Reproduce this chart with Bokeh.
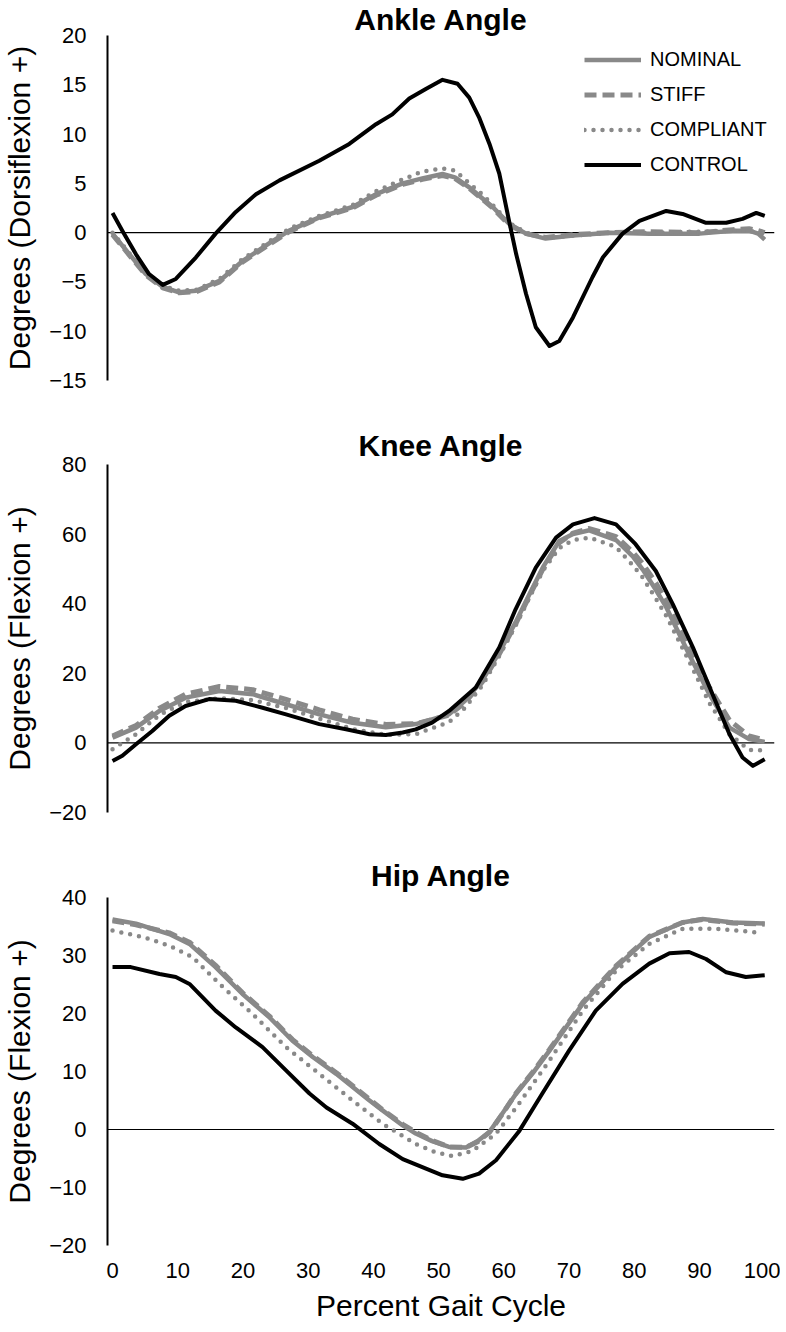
from bokeh.plotting import figure
from bokeh.layouts import column
from bokeh.models import Span, Legend, LegendItem, FixedTicker, Range1d
from bokeh.embed import file_html
from bokeh.resources import INLINE

FONT = "Liberation Sans"
GRAY = "#898989"
BLACK = "#000000"

# ---------------- Ankle ----------------
ankle_x = [0, 2.6, 5.1, 7.7, 10.2, 12.8, 16.4, 19.9, 24.0, 27.1, 31.7, 36.8, 40.4, 44.5, 47.5, 50.6,
           52.5, 54.7, 56.5, 58.3, 60.8, 63.4, 66.4, 70.6, 76.2, 82.3, 90.0, 95.1, 97.6, 99, 100]
ankle_nominal = [-0.1, -2.2, -4.2, -5.5, -6.05, -5.9, -4.9, -2.9, -1.1, 0.2, 1.55, 2.6, 3.9, 5.0, 5.5, 5.95,
                 5.6, 4.6, 3.6, 2.6, 0.9, -0.1, -0.6, -0.3, 0.0, -0.1, -0.1, 0.2, 0.2, -0.1, -0.7]
ankle_stiff = [-0.2, -2.3, -4.3, -5.6, -6.1, -6.0, -5.0, -3.0, -1.2, 0.1, 1.5, 2.5, 3.8, 4.9, 5.4, 5.8,
               5.5, 4.5, 3.5, 2.5, 0.8, -0.1, -0.5, -0.2, 0.0, 0.1, 0.0, 0.3, 0.4, 0.2, 0.0]
ankle_compliant = [0.0, -2.1, -4.1, -5.4, -5.9, -5.8, -4.7, -2.7, -0.9, 0.4, 1.7, 2.8, 4.2, 5.4, 6.2, 6.5,
                   6.3, 5.0, 4.0, 2.8, 1.0, 0.0, -0.5, -0.3, 0.0, 0.0, 0.1, 0.2, 0.2, 0.0, -0.3]
ankle_control_x = [0, 1.5, 3.6, 5.6, 7.7, 9.7, 12.8, 15.8, 18.9, 22.0, 25.6, 31.7, 36.3, 40.4, 42.9, 45.5,
                   48.1, 50.6, 52.9, 54.7, 56.2, 57.8, 59.3, 60.8, 61.9, 63.4, 64.9, 67.0, 68.5, 70.6, 73.6,
                   75.2, 78.2, 80.8, 84.9, 87.4, 91.0, 94.1, 96.6, 98.7, 100]
ankle_control = [2.0, 0.2, -2.2, -4.2, -5.3, -4.7, -2.5, -0.1, 2.1, 3.9, 5.3, 7.3, 9.0, 11.0, 12.0, 13.6,
                 14.6, 15.5, 15.1, 13.7, 11.7, 9.0, 6.0, 1.2, -2.2, -6.2, -9.6, -11.5, -11.0, -8.6, -4.5,
                 -2.5, -0.1, 1.2, 2.2, 1.9, 1.0, 1.0, 1.4, 2.0, 1.7]

# ---------------- Knee ----------------
knee_x = [0, 3.6, 7.2, 11.2, 16.4, 21.5, 26.6, 31.7, 36.8, 41.9, 46.5, 51.6, 54, 56.7, 59.3, 61.9, 64, 66,
          68.5, 70.6, 73.1, 77.2, 79.8, 81.3, 83.3, 84.9, 88.4, 91.5, 94.6, 97.6, 100]
knee_nominal = [1.5, 4.4, 9.2, 13.0, 14.9, 14.0, 11.1, 8.2, 5.8, 4.5, 5.4, 8.2, 12.0, 18.0, 26.0, 35.0, 43.0,
                50.5, 58.0, 60.0, 61.1, 58.3, 53.5, 49.8, 44.0, 39.0, 25.5, 14.0, 4.4, 1.1, 0.3]
knee_stiff = [2.0, 5.0, 10.0, 14.0, 16.2, 15.3, 12.5, 9.5, 6.8, 5.3, 5.5, 8.0, 11.5, 17.5, 25.5, 34.5, 42.5,
              50.0, 57.5, 60.3, 61.6, 59.3, 54.8, 51.5, 46.0, 41.0, 28.0, 16.0, 6.5, 2.0, 0.8]
knee_compliant = [-1.8, 2.5, 8.0, 11.8, 12.8, 12.3, 10.0, 7.0, 4.0, 2.3, 2.5, 6.0, 10.0, 16.5, 25.0, 34.0, 42.0,
                  49.5, 56.0, 58.3, 59.0, 56.3, 51.0, 47.5, 41.5, 36.5, 23.5, 11.5, 2.5, -2.0, -2.2]
knee_control_x = [0, 1.5, 3.6, 6.1, 8.7, 11.2, 14.8, 18.9, 23.0, 26.6, 31.7, 35.8, 39.4, 41.9, 44.5, 46.5, 49,
                  51.6, 55.7, 59.3, 61.8, 64.9, 68.0, 70.6, 73.9, 77.2, 80.2, 83.3, 85.9, 89.0, 92.0, 94.6,
                  96.6, 98.2, 100]
knee_control = [-5.2, -3.7, -0.4, 3.4, 7.8, 10.6, 12.6, 12.1, 10.1, 8.2, 5.4, 3.9, 2.5, 2.3, 3.0, 3.9, 5.8,
                9.2, 15.9, 27.4, 38.4, 50.4, 59.0, 62.8, 64.6, 62.8, 57.1, 49.4, 39.9, 27.4, 14.0, 2.5,
                -4.2, -6.6, -4.7]

# ---------------- Hip ----------------
hip_x = [0, 3.6, 8.7, 11.8, 15.8, 19.9, 24.0, 27.6, 30.7, 34.3, 39.4, 41.4, 44.5, 46.5, 49, 51.6, 54.2, 56,
         57.8, 59.8, 61.9, 64.5, 67.0, 72.1, 77.2, 82.3, 87.4, 90.5, 95.1, 100]
hip_nominal = [36.2, 35.5, 33.7, 32.0, 28.0, 23.4, 19.4, 15.3, 12.5, 9.6, 5.0, 3.3, 0.7, -0.7, -2.0, -3.0,
               -3.1, -2.0, -0.4, 2.8, 6.2, 9.8, 13.6, 21.7, 28.0, 33.2, 35.7, 36.3, 35.7, 35.5]
hip_stiff = [36.0, 35.3, 33.9, 32.3, 28.3, 23.6, 19.6, 15.5, 12.7, 9.8, 5.2, 3.4, 0.9, -0.5, -1.9, -3.0,
             -3.1, -2.1, -0.5, 2.7, 6.3, 10.0, 13.8, 21.9, 28.2, 33.3, 35.7, 36.2, 35.6, 35.4]
hip_compliant_x = [0, 4.6, 8.7, 12.3, 16.4, 21.5, 26.6, 31.7, 36.8, 41.4, 46.5, 49.5, 52.1, 55.2, 58.8, 61.9,
                   67.0, 72.1, 77.2, 82.3, 87.4, 92.5, 98.7]
hip_compliant = [34.3, 33.2, 31.7, 29.7, 25.1, 19.9, 14.2, 9.6, 5.0, 1.0, -2.5, -3.9, -4.6, -3.7, -0.7, 3.8,
                 11.9, 20.5, 27.4, 32.0, 34.6, 34.6, 34.0]
hip_control_x = [0, 2.8, 7.2, 9.7, 11.8, 15.8, 18.9, 23.0, 26.6, 30.2, 32.8, 36.8, 40.9, 44.5, 47.5, 50.6,
                 53.7, 56.2, 58.8, 62.4, 65.9, 70.0, 74.1, 78.2, 82.3, 85.4, 88.4, 91.0, 94.1, 97.1, 100]
hip_control = [28.0, 28.0, 26.8, 26.3, 25.1, 20.5, 17.6, 14.2, 10.2, 6.2, 3.8, 1.0, -2.5, -5.1, -6.5, -7.9,
               -8.5, -7.6, -5.3, -0.2, 6.2, 13.6, 20.5, 25.1, 28.6, 30.4, 30.6, 29.4, 27.1, 26.3, 26.6]

x_ticks = list(range(0, 101, 10))
series_names = ["NOMINAL", "STIFF", "COMPLIANT", "CONTROL"]


def make_fig(title, ylabel, yr, yticks, frame_h, top, bottom, show_x, title_standoff):
    p = figure(frame_width=667, frame_height=frame_h,
               x_range=Range1d(-0.77, 101.5), y_range=Range1d(*yr),
               output_backend="svg", toolbar_location=None,
               min_border_left=97, min_border_right=6,
               min_border_top=top, min_border_bottom=bottom,
               x_axis_location="below" if show_x else None)
    p.title.text = title
    p.title.text_font = FONT
    p.title.text_font_size = "30px"
    p.title.text_font_style = "bold"
    p.title.text_color = BLACK
    p.title.align = "center"
    p.title.standoff = title_standoff
    p.title.offset = 0
    p.outline_line_color = None
    p.xgrid.visible = False
    p.ygrid.visible = False
    p.background_fill_color = None
    p.border_fill_color = None

    ya = p.yaxis[0]
    ya.ticker = FixedTicker(ticks=yticks)
    ya.axis_line_width = 2
    ya.axis_line_color = BLACK
    ya.major_tick_line_color = None
    ya.minor_tick_line_color = None
    ya.major_label_standoff = 15
    ya.major_label_text_font = FONT
    ya.major_label_text_font_size = "22px"
    ya.major_label_text_color = BLACK
    ya.axis_label = ylabel
    ya.axis_label_text_font = FONT
    ya.axis_label_text_font_size = "30px"
    ya.axis_label_text_font_style = "normal"
    ya.axis_label_text_color = BLACK
    ya.axis_label_standoff = 10

    if show_x:
        xa = p.xaxis[0]
        xa.ticker = FixedTicker(ticks=x_ticks)
        xa.axis_line_color = None
        xa.major_tick_line_color = None
        xa.minor_tick_line_color = None
        xa.major_label_standoff = 11
        xa.major_label_text_font = FONT
        xa.major_label_text_font_size = "22px"
        xa.major_label_text_color = BLACK
        xa.axis_label = "Percent Gait Cycle"
        xa.axis_label_text_font = FONT
        xa.axis_label_text_font_size = "30px"
        xa.axis_label_text_font_style = "normal"
        xa.axis_label_text_color = BLACK
        xa.axis_label_standoff = 8

    p.add_layout(Span(location=0, dimension="width", line_color=BLACK, line_width=1.2, level="underlay"))
    return p


def draw(p, nx, nom, stf, sx, cmp_, cx, ctl):
    r1 = p.line(nx, nom, line_color=GRAY, line_width=4.5, line_join="round")
    r2 = p.line(nx, stf, line_color=GRAY, line_width=5, line_dash="12 6")
    r3 = p.line(sx, cmp_, line_color=GRAY, line_width=4.5, line_dash="0 9", line_cap="round")
    r4 = p.line(cx, ctl, line_color=BLACK, line_width=4, line_join="round")
    return [r1, r2, r3, r4]


p1 = make_fig("Ankle Angle", "Degrees (Dorsiflexion +)", (-15, 20), list(range(-15, 21, 5)),
              345, 27, 20, False, 0)
rs = draw(p1, ankle_x, ankle_nominal, ankle_stiff, ankle_x, ankle_compliant,
          ankle_control_x, ankle_control)
legend = Legend(items=[LegendItem(label=n, renderers=[r]) for n, r in zip(series_names, rs)],
                location=(477, 203), orientation="vertical",
                glyph_width=57, glyph_height=25, label_height=25, spacing=10,
                label_standoff=9, padding=0, margin=0,
                label_text_font=FONT, label_text_font_size="20px", label_text_color=BLACK,
                border_line_color=None, background_fill_alpha=0)
p1.add_layout(legend)

p2 = make_fig("Knee Angle", "Degrees (Flexion +)", (-20, 80), list(range(-20, 81, 20)),
              348, 64, 20, False, 6)
draw(p2, knee_x, knee_nominal, knee_stiff, knee_x, knee_compliant, knee_control_x, knee_control)

p3 = make_fig("Hip Angle", "Degrees (Flexion +)", (-20, 40), list(range(-20, 41, 10)),
              348, 65, 79, True, 12)
draw(p3, hip_x, hip_nominal, hip_stiff, hip_compliant_x, hip_compliant, hip_control_x, hip_control)

layout = column(p1, p2, p3, spacing=0)
open("out.html", "w").write(file_html(layout, INLINE))
